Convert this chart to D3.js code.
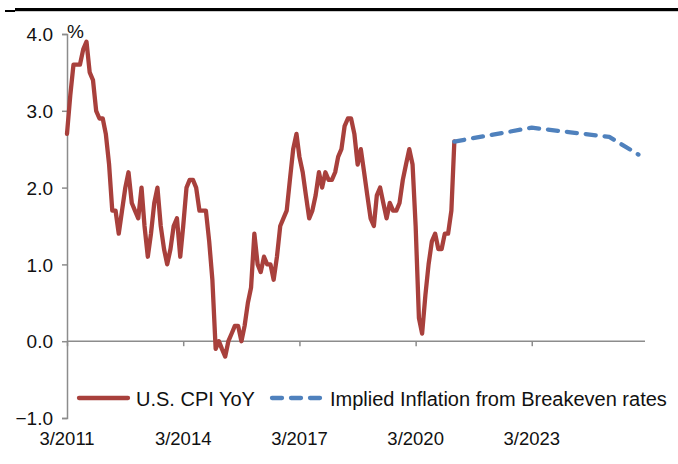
<!DOCTYPE html>
<html>
<head>
<meta charset="utf-8">
<script src="https://cdn.jsdelivr.net/npm/d3@7"></script>
<style>
  html, body { margin: 0; padding: 0; background: #fff; }
  svg { display: block; font-family: "Liberation Sans", Arial, sans-serif; }
</style>
</head>
<body>
<svg id="chart" width="678" height="464"></svg>
<script>
// ---- Data ----
const cpiStart = "2011-03";
const cpiValues = [
  2.7,3.2,3.6,3.6,3.6,3.8,3.9,3.5,3.4,3.0,
  2.9,2.9,2.7,2.3,1.7,1.7,1.4,1.7,2.0,2.2,1.8,1.7,
  1.6,2.0,1.5,1.1,1.4,1.8,2.0,1.5,1.2,1.0,1.2,1.5,
  1.6,1.1,1.5,2.0,2.1,2.1,2.0,1.7,1.7,1.7,1.3,0.8,
  -0.1,0.0,-0.1,-0.2,0.0,0.1,0.2,0.2,0.0,0.2,0.5,0.7,
  1.4,1.0,0.9,1.1,1.0,1.0,0.8,1.1,1.5,1.6,1.7,2.1,
  2.5,2.7,2.4,2.2,1.9,1.6,1.7,1.9,2.2,2.0,2.2,2.1,
  2.1,2.2,2.4,2.5,2.8,2.9,2.9,2.7,2.3,2.5,2.2,1.9,
  1.6,1.5,1.9,2.0,1.8,1.6,1.8,1.7,1.7,1.8,2.1,2.3,
  2.5,2.3,1.5,0.3,0.1,0.6,1.0,1.3,1.4,1.2,1.2,1.4,
  1.4,1.7,2.6
];
const breakevenDates = ["2021-03","2022-03","2023-03","2024-03","2025-03","2025-12"];
const breakevenValues = [2.60,2.69,2.78,2.72,2.66,2.43];
const xTickLabels = ["3/2011","3/2014","3/2017","3/2020","3/2023"];
const xTickDates = ["2011-03","2014-03","2017-03","2020-03","2023-03"];
const yTicks = [-1,0,1,2,3,4];
const seriesNames = ["U.S. CPI YoY","Implied Inflation from Breakeven rates"];
const axisStart = "2011-03", axisEnd = "2026-02";

// ---- Setup ----
const parse = d3.timeParse("%Y-%m");
const startDate = parse(cpiStart);
const cpi = cpiValues.map((v,i) => ({date: d3.timeMonth.offset(startDate, i), value: v}));
const be = breakevenDates.map((d,i) => ({date: parse(d), value: breakevenValues[i]}));

const svg = d3.select("#chart");
const plotL = 67, plotR = 645, plotT = 34, plotB = 418;
const x = d3.scaleTime().domain([parse(axisStart), parse(axisEnd)]).range([plotL, plotR]);
const y = d3.scaleLinear().domain([-1, 4]).range([plotB, plotT]);

const axisColor = "#8c8c8c";
const textColor = "#111";
const red = "#a8403c";
const blue = "#4f81bd";

// Top rule
svg.append("rect").attr("x", 15).attr("y", 8).attr("width", 663).attr("height", 3.2).attr("fill", "#000");
svg.append("rect").attr("x", 5).attr("y", 10).attr("width", 10).attr("height", 2).attr("fill", "#000");

// Y axis
const yAxis = d3.axisLeft(y).tickValues(yTicks).tickSize(5).tickPadding(9).tickFormat(d3.format(".1f"));
const gy = svg.append("g").attr("transform", `translate(${plotL},0)`).call(yAxis);
gy.select(".domain").attr("stroke", axisColor).attr("stroke-width", 1.5);
gy.selectAll(".tick line").attr("stroke", axisColor).attr("stroke-width", 1.5);
gy.selectAll(".tick text").attr("fill", textColor).attr("font-size", 19).attr("dy", "0.35em")
  .attr("font-family", "Liberation Sans, Arial, sans-serif");

// X axis at zero (ticks only)
const xAxis = d3.axisBottom(x).tickValues(xTickDates.map(parse)).tickSize(5).tickFormat("");
const gx = svg.append("g").attr("transform", `translate(0,${y(0)})`).call(xAxis);
gx.select(".domain").attr("stroke", axisColor).attr("stroke-width", 1.5).attr("d", `M${plotL},0H${plotR}`);
gx.selectAll(".tick line").attr("stroke", axisColor).attr("stroke-width", 1.5);

// X labels at bottom
svg.append("g").selectAll("text").data(xTickDates).join("text")
  .attr("x", d => x(parse(d)))
  .attr("y", 445)
  .attr("text-anchor", "middle")
  .attr("font-size", 18.5)
  .attr("fill", textColor)
  .text((d,i) => xTickLabels[i]);

// % unit
svg.append("text").attr("x", 67).attr("y", 38).attr("font-size", 19).attr("fill", textColor).text("%");

// Lines
const line = d3.line().x(d => x(d.date)).y(d => y(d.value));
svg.append("path").datum(cpi).attr("d", line).attr("fill", "none")
  .attr("stroke", red).attr("stroke-width", 4.3).attr("stroke-linejoin", "round").attr("stroke-linecap", "round");
svg.append("path").datum(be).attr("d", line).attr("fill", "none")
  .attr("stroke", blue).attr("stroke-width", 4.3).attr("stroke-dasharray", "10,9")
  .attr("stroke-linejoin", "round").attr("stroke-linecap", "round");

// Legend
const lg = svg.append("g");
lg.append("line").attr("x1", 79).attr("x2", 128).attr("y1", 398).attr("y2", 398)
  .attr("stroke", red).attr("stroke-width", 4.3).attr("stroke-linecap", "round");
lg.append("text").attr("x", 136).attr("y", 406).attr("font-size", 20).attr("fill", textColor).text(seriesNames[0]);
lg.append("line").attr("x1", 272).attr("x2", 322).attr("y1", 398).attr("y2", 398)
  .attr("stroke", blue).attr("stroke-width", 4.3).attr("stroke-dasharray", "10,9").attr("stroke-linecap", "round");
lg.append("text").attr("x", 330).attr("y", 406).attr("font-size", 20).attr("fill", textColor).text(seriesNames[1]);
</script>
</body>
</html>
